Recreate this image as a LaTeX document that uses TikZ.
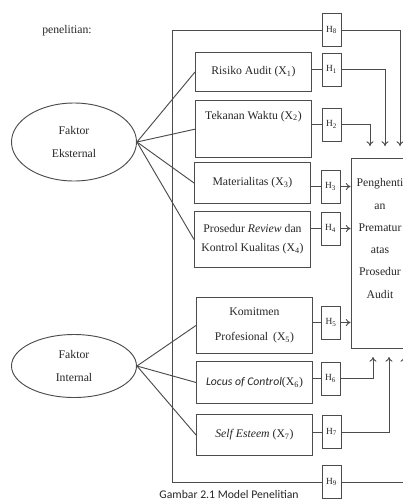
\documentclass[tikz,border=0pt]{standalone}
\usepackage{fontspec}
\setmainfont{Liberation Serif}
\newfontfamily\calibri{Carlito}
\usetikzlibrary{shapes.geometric,arrows.meta}

\begin{document}
\begin{tikzpicture}[x=0.03cm, y=-0.03cm, line width=0.8pt, color=black!70,
    kotak/.style={draw, rectangle, anchor=north west, minimum width=3.48cm,
      align=center, inner sep=2pt, text=black!85, font=\fontsize{10}{16}\selectfont},
    hkotak/.style={draw, rectangle, minimum width=0.57cm, minimum height=0.99cm,
      inner sep=0pt, text=black!85, font=\fontsize{8}{9}\selectfont},
    faktor/.style={draw, ellipse, minimum width=3.75cm, align=center,
      text=black!85, font=\fontsize{10}{19}\selectfont},
    panah/.style={-{To[length=4pt,width=6pt]}}]
  \useasboundingbox (0,0) rectangle (403,500);
  \clip (0,0) rectangle (403,500);

  \node[text=black!85, font=\fontsize{10}{12}\selectfont] (judul) at (67,31) {penelitian:};

  % Factor ellipses
  \node[faktor, minimum height=2.34cm] (eks) at (74,142) {Faktor\\Eksternal};
  \node[faktor, minimum height=1.89cm] (int) at (74,366) {Faktor\\Internal};

  % Variable boxes
  \node[kotak, minimum height=1.17cm] (x1) at (195,52) {Risiko Audit (X\textsubscript{1})};
  \node[kotak, text height=14pt, text depth=31pt] (x2) at (195,100) {Tekanan Waktu (X\textsubscript{2})};
  \node[kotak, minimum height=1.23cm] (x3) at (194,162) {Materialitas (X\textsubscript{3})};
  \node[kotak, minimum height=1.68cm] (x4) at (194,211) {Prosedur \textit{Review} dan\\Kontrol Kualitas (X\textsubscript{4})};
  \node[kotak, minimum height=1.68cm, font=\fontsize{10}{21}\selectfont] (x5) at (196,297) {Komitmen\\Profesional\, (X\textsubscript{5})};
  \node[kotak, minimum height=1.26cm] (x6) at (196,361) {{\calibri\itshape Locus of Control}(X\textsubscript{6})};
  \node[kotak, minimum height=1.23cm] (x7) at (196,414) {\textit{Self Esteem} (X\textsubscript{7})};

  % Hypothesis boxes
  \node[hkotak] (h8) at (331.5,30) {H\textsubscript{8}};
  \node[hkotak] (h1) at (331.5,69.5) {H\textsubscript{1}};
  \node[hkotak] (h2) at (331.5,124.5) {H\textsubscript{2}};
  \node[hkotak] (h3) at (330.5,186.5) {H\textsubscript{3}};
  \node[hkotak] (h4) at (330.5,228.5) {H\textsubscript{4}};
  \node[hkotak] (h5) at (331,322.5) {H\textsubscript{5}};
  \node[hkotak] (h6) at (330.5,378.5) {H\textsubscript{6}};
  \node[hkotak] (h7) at (331.5,432) {H\textsubscript{7}};
  \node[hkotak] (h9) at (331.5,482) {H\textsubscript{9}};

  % Dependent variable
  \node[draw, rectangle, minimum width=1.74cm, minimum height=5.7cm, align=center,
    text=black!85, font=\fontsize{10}{19}\selectfont] (hasil) at (380,253)
    {Penghenti\\an\\Prematur\\atas\\Prosedur\\Audit\\ \strut};

  \node[text=black!85, font=\calibri\fontsize{10}{12}\selectfont] (capt) at (229,494) {Gambar 2.1 Model Penelitian};

  % Arrow ends
  \coordinate (a2) at (370,146);
  \coordinate (a1) at (385,146);
  \coordinate (a8) at (400,146);
  \coordinate (a6) at (373,357);
  \coordinate (a7) at (389,357);
  \coordinate (a9) at (404,357);
  \coordinate (ka) at (172,30);
  \coordinate (kb) at (172,482);

  % Ellipses to boxes
  \foreach \i in {1,...,4} {
    \draw (eks.east) -- (x\i.west);
  }
  \foreach \i in {5,6,7} {
    \draw (int.east) -- (x\i.west);
  }

  % Boxes to hypotheses
  \foreach \i in {1,...,7} {
    \draw (h\i.west -| x\i.east) -- (h\i.west);
  }

  % Hypotheses to dependent variable
  \foreach \i in {3,4,5} {
    \draw[panah] (h\i.east) -- (h\i.east -| hasil.west);
  }
  \draw[panah] (h1.east) -| (a1);
  \draw[panah] (h2.east) -| (a2);
  \draw[panah] (h6.east) -| (a6);
  \draw[panah] (h7.east) -| (a7);

  % Outer frame
  \draw (h8.west) -- (ka) -- (kb) -- (h9.west);
  \draw[panah] (h8.east) -| (a8);
  \draw[panah] (h9.east) -| (a9);
\end{tikzpicture}
\end{document}
